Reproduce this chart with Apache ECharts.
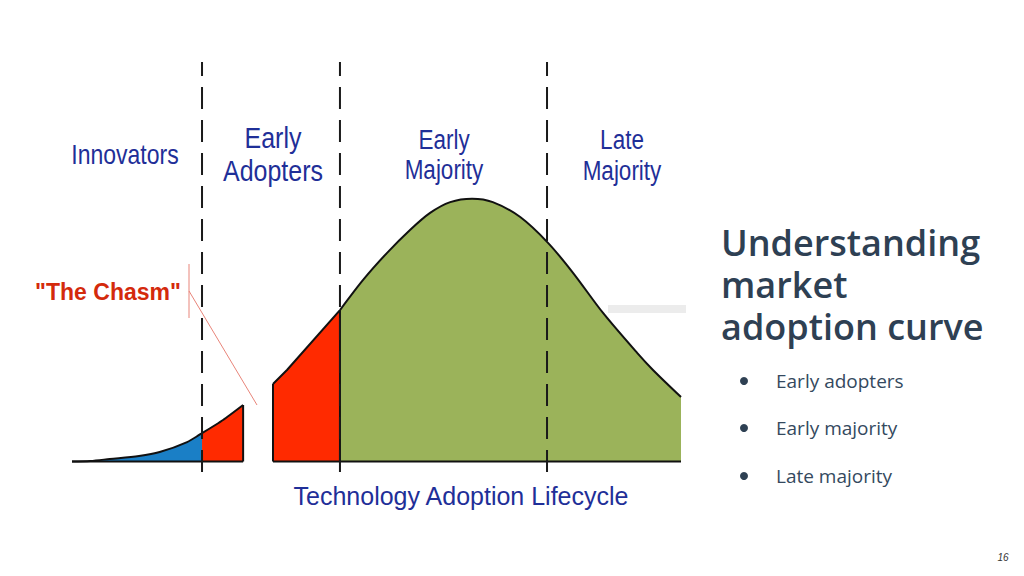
<!DOCTYPE html>
<html>
<head>
<meta charset="utf-8">
<style>
  html, body { margin: 0; padding: 0; background: #ffffff; }
  #chart { width: 1024px; height: 576px; }
</style>
<script src="https://cdn.jsdelivr.net/npm/echarts@6/dist/echarts.min.js"></script>
</head>
<body>
<div id="chart"></div>
<script>
// ---- Data (x: 0-100 across the lifecycle, y: relative adoption, peak = 100) ----
const innovatorsCurve = [[0, 0], [3, 0.2], [6.2, 0.95], [11, 2.1], [14.4, 3.6], [18.9, 7.4], [21.35, 10.8]];
const earlyAdoptersLeft = [[21.35, 10.8], [24.8, 15.8], [28.1, 21.5]];
const earlyAdoptersRight = [[33.0, 29.5], [35.3, 34.8], [44.0, 57.6]];
const majorityCurve = [[44.0, 57.6], [47.8, 69.1], [51.7, 79.3], [55.5, 88.1], [58.8, 94.6], [62.1, 98.7],
  [65.7, 100], [69.1, 98.7], [73.6, 93.0], [78.2, 83.1], [82.3, 71.7], [87.2, 56.5], [92.8, 41.3], [95.4, 34.8], [100, 24.5]];
const phaseBoundaries = [21.35, 44.0, 78.0];
const phaseLabels = ['Innovators', 'Early\nAdopters', 'Early\nMajority', 'Late\nMajority'];
const chartTitle = 'Technology Adoption Lifecycle';
const chasmLabel = '"The Chasm"';
const slideTitleLines = ['Understanding', 'market', 'adoption curve'];
const bulletItems = ['Early adopters', 'Early majority', 'Late majority'];
const pageNumber = '16';

const Y_MIN = -4, Y_MAX = 152;

const chart = echarts.init(document.getElementById('chart'), null, { renderer: 'svg' });

function areaSeries(data, color, smooth) {
  return {
    type: 'line', data: data, symbol: 'none', smooth: smooth,
    lineStyle: { color: '#111', width: 2 },
    areaStyle: { color: color, opacity: 1, origin: 0 },
    z: 2, silent: true
  };
}
function plainLine(data, opts) {
  return Object.assign({
    type: 'line', data: data, symbol: 'none', silent: true,
    lineStyle: { color: '#111', width: 2 }, z: 3
  }, opts || {});
}
const first = a => a[0];
const last = a => a[a.length - 1];

const series = [
  areaSeries(innovatorsCurve, '#1a7fc6', 0.3),
  areaSeries(earlyAdoptersLeft, '#ff2a00', 0.2),
  areaSeries(earlyAdoptersRight, '#ff2a00', false),
  areaSeries(majorityCurve, '#9bb35a', 0.3),
  // vertical edges
  plainLine([[last(earlyAdoptersLeft)[0], 0], last(earlyAdoptersLeft)]),
  plainLine([[first(earlyAdoptersRight)[0], 0], first(earlyAdoptersRight)]),
  plainLine([[first(majorityCurve)[0], 0], first(majorityCurve)]),
  // baselines
  plainLine([[first(innovatorsCurve)[0], 0], [last(earlyAdoptersLeft)[0], 0]]),
  plainLine([[first(earlyAdoptersRight)[0], 0], [last(majorityCurve)[0], 0]])
];
phaseBoundaries.forEach(x => {
  series.push(plainLine([[x, Y_MIN], [x, Y_MAX]], {
    lineStyle: { color: '#1a1a1a', width: 2, type: [22, 11] }, z: 4
  }));
});

const blue = '#1f2f98';
const labelFont = "'Liberation Sans', Arial, sans-serif";
const phasePos = [
  { x: 125, y: 154, size: 23, lh: 27 },
  { x: 273, y: 154, size: 25, lh: 28 },
  { x: 444, y: 155, size: 22.5, lh: 25 },
  { x: 622, y: 155, size: 22.5, lh: 26 }
];
const graphics = [
  { type: 'rect', shape: { x: 608, y: 305, width: 78, height: 8 }, style: { fill: '#ececec' }, z: 0 }
];
phaseLabels.forEach((t, i) => {
  const p = phasePos[i];
  graphics.push({
    type: 'text', x: p.x, y: p.y, scaleY: 1.2, z: 10,
    style: { text: t, x: 0, y: 0, fill: blue, font: p.size + 'px ' + labelFont,
      textAlign: 'center', textVerticalAlign: 'middle', lineHeight: p.lh }
  });
});
graphics.push(
  { type: 'text', x: 461, y: 496, z: 10,
    style: { text: chartTitle, fill: blue, font: '25px ' + labelFont, textAlign: 'center', textVerticalAlign: 'middle' } },
  { type: 'text', x: 108, y: 292, z: 10,
    style: { text: chasmLabel, fill: '#d42a0c', font: 'bold 23px ' + labelFont, textAlign: 'center', textVerticalAlign: 'middle' } },
  { type: 'line', shape: { x1: 189, y1: 264, x2: 189, y2: 318 }, style: { stroke: '#e8857a', lineWidth: 1 }, z: 10 },
  { type: 'line', shape: { x1: 189, y1: 291, x2: 257, y2: 405 }, style: { stroke: '#e8857a', lineWidth: 1 }, z: 10 },
  { type: 'text', x: 1003, y: 557, z: 10,
    style: { text: pageNumber, fill: '#333', font: "italic 10px " + labelFont, textAlign: 'center', textVerticalAlign: 'middle' } }
);
const titleY = [242, 284, 326];
slideTitleLines.forEach((t, i) => {
  graphics.push({ type: 'text', x: 721, y: titleY[i], z: 10,
    style: { text: t, fill: '#2e4053', font: "600 36px 'Open Sans', sans-serif", lineHeight: 38,
      textAlign: 'left', textVerticalAlign: 'middle' } });
});
const bulletY = [381, 428, 476];
bulletItems.forEach((t, i) => {
  graphics.push(
    { type: 'circle', shape: { cx: 744, cy: bulletY[i], r: 4 }, style: { fill: '#2e4053' }, z: 10 },
    { type: 'text', x: 776, y: bulletY[i], z: 10,
      style: { text: t, fill: '#34495e', font: "19px 'Open Sans', sans-serif", textAlign: 'left', textVerticalAlign: 'middle' } }
  );
});

chart.setOption({
  animation: false,
  backgroundColor: '#ffffff',
  grid: { left: 72, right: 343, top: 62, bottom: 104 },
  xAxis: { type: 'value', min: 0, max: 100, show: false },
  yAxis: { type: 'value', min: Y_MIN, max: Y_MAX, show: false },
  series: series,
  graphic: graphics
});
</script>
</body>
</html>
